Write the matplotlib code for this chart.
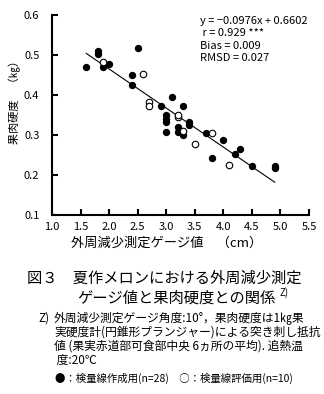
import matplotlib
matplotlib.use('Agg')
import matplotlib.pyplot as plt
import numpy as np

plt.rcParams['font.family'] = ['Noto Sans CJK JP', 'DejaVu Sans']

# 検量線作成用 (n=28)
cal_x = [1.6, 1.8, 1.8, 1.9, 2.0, 2.5, 2.4, 2.4, 2.9, 3.1, 3.3, 3.0, 3.0, 3.0,
         3.0, 3.2, 3.2, 3.3, 3.4, 3.4, 3.7, 4.0, 3.8, 4.2, 4.3, 4.5, 4.9, 4.9]
cal_y = [0.470, 0.510, 0.503, 0.471, 0.477, 0.517, 0.451, 0.424, 0.373, 0.394,
         0.373, 0.350, 0.340, 0.332, 0.307, 0.319, 0.307, 0.301, 0.333, 0.326,
         0.305, 0.287, 0.243, 0.252, 0.265, 0.222, 0.217, 0.222]

# 検量線評価用 (n=10)
val_x = [1.9, 2.6, 2.7, 2.7, 3.2, 3.2, 3.3, 3.5, 3.8, 4.1]
val_y = [0.482, 0.452, 0.383, 0.373, 0.346, 0.350, 0.311, 0.278, 0.305, 0.226]

# 回帰式
slope = -0.0976
intercept = 0.6602
line_x = [1.6, 4.9]

stats_text = ['y = \u22120.0976x + 0.6602', ' r = 0.929 ***', 'Bias = 0.009', 'RMSD = 0.027']

W, H = 324, 394
fig = plt.figure(figsize=(W / 100, H / 100), dpi=100)
ax = fig.add_axes([52 / W, 1 - 215 / H, (309 - 52) / W, 200 / H])

lx = np.array(line_x)
ax.plot(lx, slope * lx + intercept, color='black', lw=0.8, zorder=2)
ax.scatter(cal_x, cal_y, s=28, color='black', zorder=3, linewidths=0)
ax.scatter(val_x, val_y, s=22, facecolor='white', edgecolor='black', linewidths=0.8, zorder=4)

ax.set_xlim(1.0, 5.5)
ax.set_ylim(0.1, 0.6)
ax.set_xticks(np.arange(1.0, 5.51, 0.5))
ax.set_yticks(np.arange(0.1, 0.61, 0.1))
ax.xaxis.set_major_formatter(matplotlib.ticker.FormatStrFormatter('%.1f'))
ax.yaxis.set_major_formatter(matplotlib.ticker.FormatStrFormatter('%.1f'))
for s in ['top', 'right']:
    ax.spines[s].set_visible(False)
for s in ['left', 'bottom']:
    ax.spines[s].set_linewidth(1.5)
ax.tick_params(direction='in', length=4, width=1.5, labelsize=8)
ax.tick_params(axis='y', pad=9)
ax.tick_params(axis='x', pad=5)

for i, t in enumerate(stats_text):
    fig.text(200 / W, 1 - (21 + i * 12.3) / H, t, fontsize=8, va='center', ha='left')

# 軸ラベル
fig.text(15 / W, 1 - 99 / H, '果肉硬度　（㎏）', rotation=90, fontsize=8, ha='center', va='center')
fig.text(167 / W, 1 - 243 / H, '外周減少測定ゲージ値　（cm）', fontsize=9.5, ha='center', va='center')

# 図の題
fig.text(164 / W, 1 - 278 / H, '図３　夏作メロンにおける外周減少測定', fontsize=11, ha='center', va='center')
fig.text(77 / W, 1 - 298 / H, 'ゲージ値と果肉硬度との関係', fontsize=11, ha='left', va='center')
fig.text(280 / W, 1 - 293 / H, 'Z)', fontsize=7, ha='left', va='center')

# 注
fig.text(38 / W, 1 - 318 / H, 'Z)', fontsize=8.5, ha='left', va='center')
notes = ['外周減少測定ゲージ角度:10°，果肉硬度は1㎏果',
         '実硬度計(円錐形プランジャー)による突き刺し抵抗',
         '値 (果実赤道部可食部中央 6ヵ所の平均). 追熱温',
         ' 度:20℃']
for i, t in enumerate(notes):
    fig.text(54 / W, 1 - (318 + i * 14) / H, t, fontsize=8.5, ha='left', va='center')

fig.text(55 / W, 1 - 378 / H, '●：検量線作成用(n=28)　○：検量線評価用(n=10)', fontsize=7.5, ha='left', va='center')

fig.savefig('out.png', dpi=100)
